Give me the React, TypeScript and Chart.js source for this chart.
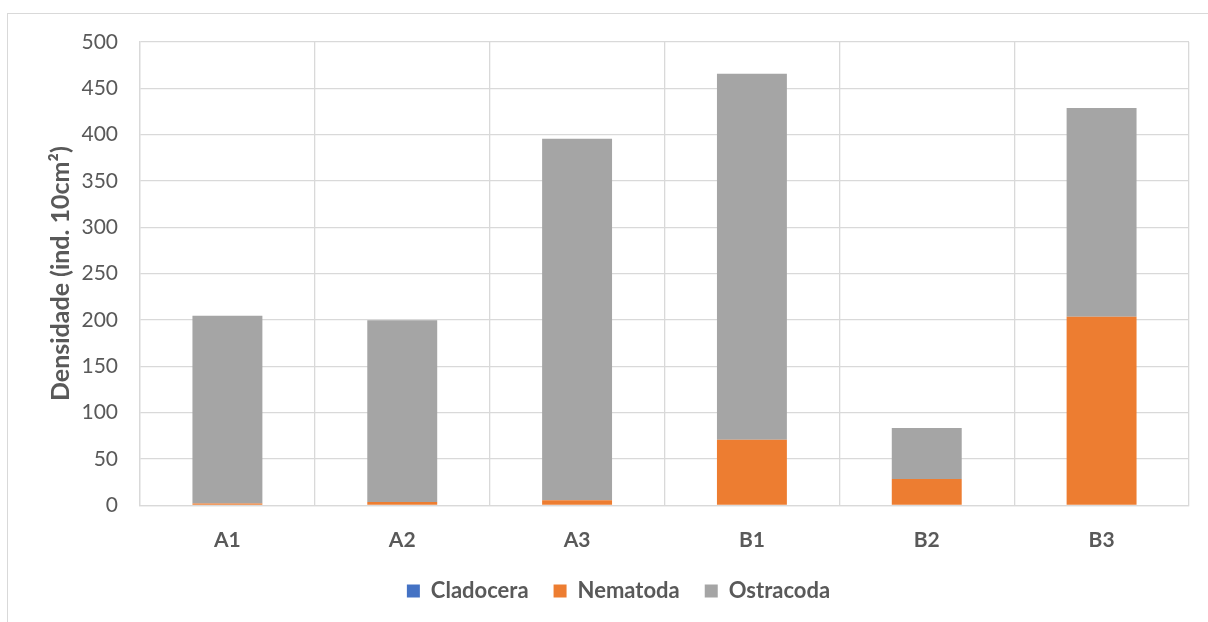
import React, { useEffect, useRef } from "react";
import { Chart, registerables } from "chart.js";

Chart.register(...registerables);

// Sampling sites
const categories = ["A1", "A2", "A3", "B1", "B2", "B3"];

// Density per group (ind. 10cm²)
const cladocera = [0, 0, 0, 0, 0, 0];
const nematoda = [2, 3.5, 5.4, 70.8, 28.4, 203.5];
const ostracoda = [202.6, 196.1, 390.1, 395.0, 55.0, 225.3];

const yTicks = [0, 50, 100, 150, 200, 250, 300, 350, 400, 450, 500];

const FONT = "Lato, 'Open Sans', sans-serif";
const TEXT = "#595959";
const GRID = "#d9d9d9";

// Nudges the legend row horizontally after layout
const legendShift = {
  id: "legendShift",
  afterLayout(chart: any) {
    const lg = chart.legend;
    if (lg) {
      lg.left += 24;
      lg.right += 24;
    }
  },
};

export default function App() {
  const canvasRef = useRef<HTMLCanvasElement | null>(null);

  useEffect(() => {
    const canvas = canvasRef.current;
    if (!canvas) return;
    const chart = new Chart(canvas, {
      type: "bar",
      data: {
        labels: categories,
        datasets: [
          { label: "Cladocera", data: cladocera, backgroundColor: "#4472C4" },
          { label: "Nematoda", data: nematoda, backgroundColor: "#ED7D31" },
          { label: "Ostracoda", data: ostracoda, backgroundColor: "#A5A5A5" },
        ],
      },
      plugins: [legendShift],
      options: {
        animation: false,
        responsive: false,
        maintainAspectRatio: false,
        layout: { padding: { top: 42, right: 19, bottom: 10, left: 0 } },
        datasets: {
          bar: { barPercentage: 0.4, categoryPercentage: 1, borderWidth: 0 },
        },
        scales: {
          x: {
            stacked: true,
            grid: { color: GRID, lineWidth: 1.3, drawTicks: false },
            border: { color: GRID, width: 1.3 },
            ticks: {
              color: TEXT,
              padding: 22,
              font: { family: FONT, size: 21, weight: "bold" },
            },
            afterFit: (scale: any) => {
              scale.height = 49.7;
            },
          },
          y: {
            stacked: true,
            min: 0,
            max: 500,
            afterBuildTicks: (scale: any) => {
              scale.ticks = yTicks.map((v) => ({ value: v }));
            },
            grid: { color: GRID, lineWidth: 1.3, drawTicks: false },
            border: { color: GRID, width: 1.3 },
            ticks: {
              color: TEXT,
              padding: 22,
              font: { family: FONT, size: 21 },
            },
            title: {
              display: true,
              text: "Densidade (ind. 10cm²)",
              color: TEXT,
              padding: { top: 46, bottom: 0 },
              font: { family: FONT, size: 25, weight: "bold" },
            },
            afterFit: (scale: any) => {
              scale.width = 140;
            },
          },
        },
        plugins: {
          tooltip: { enabled: false },
          legend: {
            position: "bottom",
            labels: {
              color: TEXT,
              boxWidth: 13,
              boxHeight: 13,
              padding: 25,
              font: { family: FONT, size: 22, weight: "bold" },
            },
          },
        },
      },
    });
    return () => chart.destroy();
  }, []);

  return (
    <div
      style={{
        position: "absolute",
        left: 0,
        top: 0,
        width: 1208,
        height: 622,
        overflow: "hidden",
        background: "#fff",
      }}
    >
      <div
        style={{
          position: "absolute",
          left: 7,
          top: 13,
          width: 1400,
          height: 800,
          borderTop: "1.5px solid #d9d9d9",
          borderLeft: "1.5px solid #d9d9d9",
        }}
      />
      <canvas
        ref={canvasRef}
        width={1208}
        height={622}
        style={{ position: "absolute", left: 0, top: 0 }}
      />
    </div>
  );
}
